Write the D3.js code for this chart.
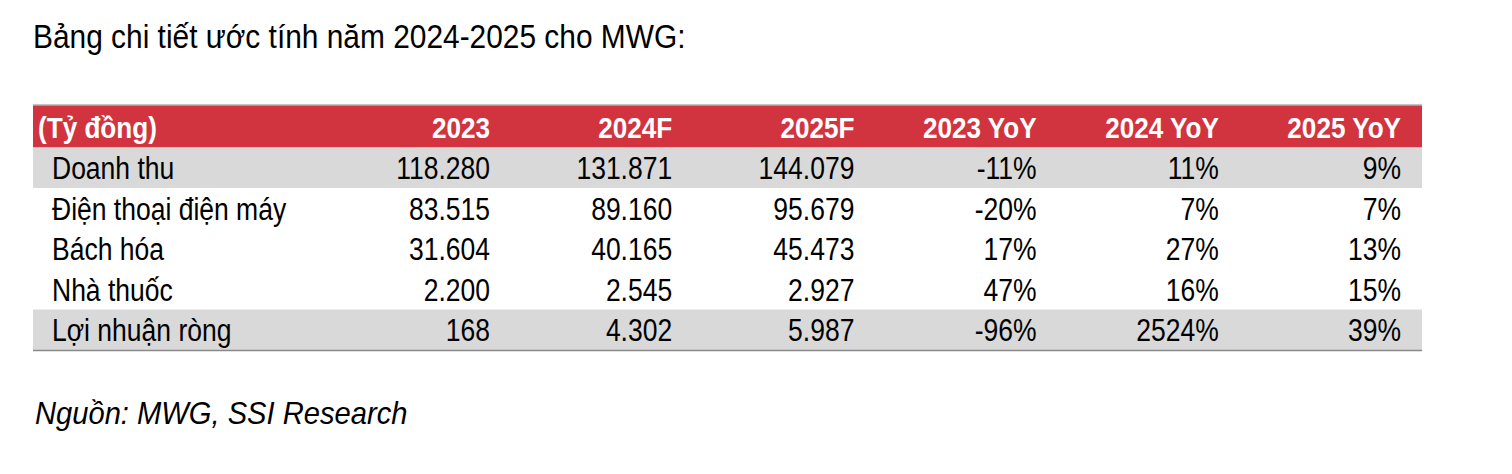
<!DOCTYPE html>
<html><head><meta charset="utf-8">
<script src="https://cdn.jsdelivr.net/npm/d3@7"></script>
<style>
html,body{margin:0;padding:0;background:#fff;}
svg{display:block;}
text{font-family:"Liberation Sans Narrow","Liberation Sans",Arial,sans-serif;}
</style></head>
<body>
<svg id="chart" width="1512" height="474"></svg>
<script>
const title = "Bảng chi tiết ước tính năm 2024-2025 cho MWG:";
const source = "Nguồn: MWG, SSI Research";
const unitLabel = "(Tỷ đồng)";
const columns = ["2023", "2024F", "2025F", "2023 YoY", "2024 YoY", "2025 YoY"];
const rowLabels = ["Doanh thu", "Điện thoại điện máy", "Bách hóa", "Nhà thuốc", "Lợi nhuận ròng"];
const values2023 = ["118.280", "83.515", "31.604", "2.200", "168"];
const values2024F = ["131.871", "89.160", "40.165", "2.545", "4.302"];
const values2025F = ["144.079", "95.679", "45.473", "2.927", "5.987"];
const yoy2023 = ["-11%", "-20%", "17%", "47%", "-96%"];
const yoy2024 = ["11%", "7%", "27%", "16%", "2524%"];
const yoy2025 = ["9%", "7%", "13%", "15%", "39%"];
const shadedRows = ["Doanh thu", "Lợi nhuận ròng"];

const seriesCols = [values2023, values2024F, values2025F, yoy2023, yoy2024, yoy2025];

const svg = d3.select("#chart");
const tableLeft = 33, tableRight = 1422;
const headerTop = 105.5, headerBottom = 147.5, tableBottom = 350;

const xCol = d3.scaleLinear().domain([0, columns.length - 1]).range([490, 1401]);
const yRow = d3.scaleBand().domain(rowLabels).range([headerBottom, tableBottom]).padding(0);

function tx(sel, x, y, s) {
  return sel.attr("transform", (d, i) => {
    const xx = typeof x === "function" ? x(d, i) : x;
    const yy = typeof y === "function" ? y(d, i) : y;
    return `translate(${xx},${yy}) scale(${s},1)`;
  });
}

// title
tx(svg.append("text").attr("font-size", 33).attr("fill", "#000").text(title), 33, 48, 0.906);

// header
svg.append("rect").attr("x", tableLeft).attr("y", headerTop)
  .attr("width", tableRight - tableLeft).attr("height", headerBottom - headerTop)
  .attr("fill", "#D1343F");
svg.append("line").attr("x1", tableLeft).attr("x2", tableRight)
  .attr("y1", headerTop - 0.5).attr("y2", headerTop - 0.5)
  .attr("stroke", "#8a8a8a").attr("stroke-width", 1.2);

tx(svg.append("text").attr("font-size", 30).attr("font-weight", "bold")
  .attr("fill", "#fff").text(unitLabel), 38, headerBottom - 9.5, 0.87);
tx(svg.selectAll("text.hdr").data(columns).join("text").attr("class", "hdr")
  .attr("text-anchor", "end").attr("font-size", 30).attr("font-weight", "bold")
  .attr("fill", "#fff").text(d => d), (d, i) => xCol(i), headerBottom - 9.5, 0.87);

// shaded rows
svg.selectAll("rect.shade").data(shadedRows).join("rect").attr("class", "shade")
  .attr("x", tableLeft).attr("y", d => yRow(d))
  .attr("width", tableRight - tableLeft).attr("height", yRow.bandwidth())
  .attr("fill", "#D9D9D9");

svg.append("line").attr("x1", tableLeft).attr("x2", tableRight)
  .attr("y1", tableBottom + 0.5).attr("y2", tableBottom + 0.5)
  .attr("stroke", "#8a8a8a").attr("stroke-width", 1.5);

// row labels
tx(svg.selectAll("text.rl").data(rowLabels).join("text").attr("class", "rl")
  .attr("font-size", 31).attr("fill", "#000").text(d => d),
  52, d => yRow(d) + yRow.bandwidth() - 9, 0.855);

// cells
seriesCols.forEach((vals, ci) => {
  tx(svg.selectAll("text.c" + ci).data(vals).join("text").attr("class", "c" + ci)
    .attr("text-anchor", "end").attr("font-size", 31).attr("fill", "#000").text(d => d),
    xCol(ci), (d, ri) => yRow(rowLabels[ri]) + yRow.bandwidth() - 9, 0.855);
});

// source
tx(svg.append("text").attr("font-size", 31).attr("font-style", "italic")
  .attr("fill", "#000").text(source), 35, 424, 0.94);
</script>
</body></html>
